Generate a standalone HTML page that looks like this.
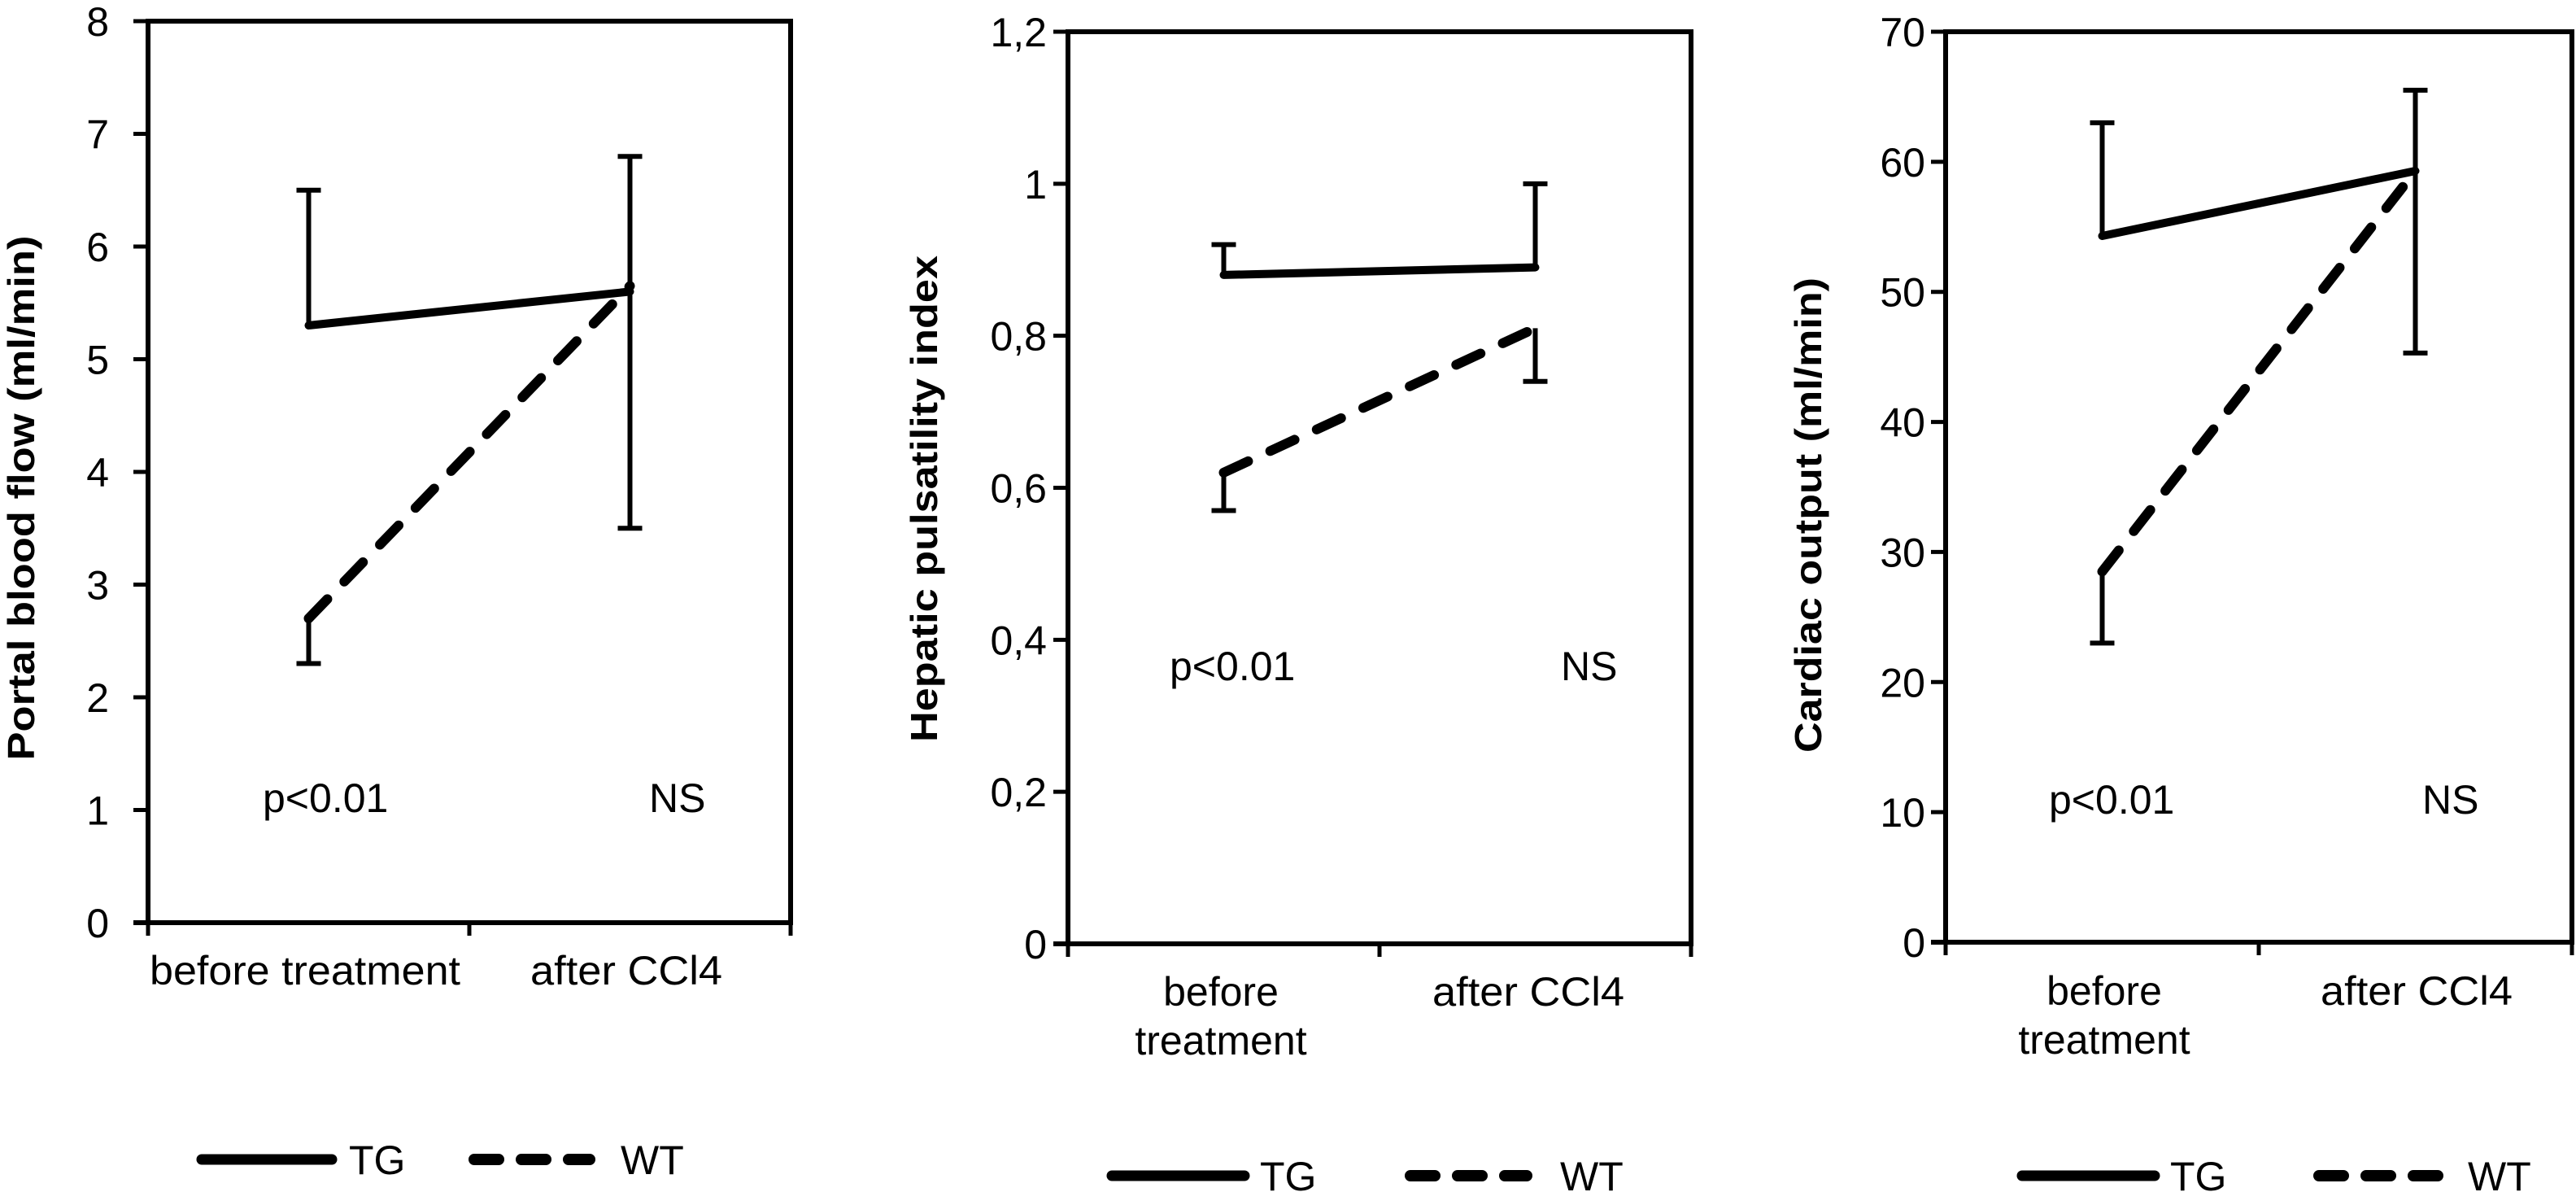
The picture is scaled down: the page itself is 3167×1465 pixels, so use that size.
<!DOCTYPE html>
<html><head><meta charset="utf-8"><style>
html,body{margin:0;padding:0;background:#fff;}
svg{display:block;}
text{font-family:"Liberation Sans",Arial,sans-serif;fill:#000;}
</style></head>
<body>
<svg id="fig" width="3167" height="1465" viewBox="0 0 3167 1465" xmlns="http://www.w3.org/2000/svg"></svg>
<script>
// ---- Data ----
const categories = ["before treatment", "after CCl4"];
const seriesNames = ["TG", "WT"];
// Panel 1: Portal blood flow
const p1TG = [5.3, 5.6];
const p1WT = [2.7, 5.65];
const p1TGUp = [6.5, 6.8];
const p1WTDown = [2.3, 3.5];
const p1Ticks = [0,1,2,3,4,5,6,7,8];
const p1TickLabels = ["0","1","2","3","4","5","6","7","8"];
// Panel 2: Hepatic pulsatility index
const p2TG = [0.88, 0.89];
const p2WT = [0.62, 0.81];
const p2TGUp = [0.92, 1.0];
const p2WTDown = [0.57, 0.74];
const p2Ticks = [0,0.2,0.4,0.6,0.8,1.0,1.2];
const p2TickLabels = ["0","0,2","0,4","0,6","0,8","1","1,2"];
// Panel 3: Cardiac output
const p3TG = [54.3, 59.3];
const p3WT = [28.5, 59.3];
const p3TGUp = [63, 65.5];
const p3WTDown = [23, 45.3];
const p3Ticks = [0,10,20,30,40,50,60,70];
const p3TickLabels = ["0","10","20","30","40","50","60","70"];

const NS = "http://www.w3.org/2000/svg";
const svg = document.getElementById('fig');
function mk(tag, attrs, parent){
  const e = document.createElementNS(NS, tag);
  for (const k in attrs) e.setAttribute(k, attrs[k]);
  (parent||svg).appendChild(e);
  return e;
}

const panels = [
  {id:"portal", L:182, R:972, T:26, B:1134, max:8, tg:p1TG, wt:p1WT, up:p1TGUp, dn:p1WTDown, ticks:p1Ticks, labels:p1TickLabels,
   title:"Portal blood flow (ml/min)", titleX:25, titleY:612, titleLen:645, tickLabelX:134,
   catMode:1, catY:1210, c1x:375, c2x:770, pY:998, pX:323, nsX:798,
   leg:{y:1425, tg1:242, tg2:414, tgT:429, wt1:576, wt2:732, wtT:763}},
  {id:"pulsatility", L:1313, R:2079, T:39, B:1160, max:1.2, tg:p2TG, wt:p2WT, up:p2TGUp, dn:p2WTDown, ticks:p2Ticks, labels:p2TickLabels,
   title:"Hepatic pulsatility index", titleX:1135, titleY:613, titleLen:598, tickLabelX:1287,
   catMode:2, catY:1236, catY2:1296, c1x:1501, c2x:1879, pY:836, pX:1438, nsX:1919,
   leg:{y:1445, tg1:1361, tg2:1536, tgT:1549, wt1:1727, wt2:1884, wtT:1918}},
  {id:"cardiac", L:2392, R:3162, T:39, B:1158, max:70, tg:p3TG, wt:p3WT, up:p3TGUp, dn:p3WTDown, ticks:p3Ticks, labels:p3TickLabels,
   title:"Cardiac output (ml/min)", titleX:2222, titleY:633, titleLen:584, tickLabelX:2367,
   catMode:2, catY:1235, catY2:1295, c1x:2587, c2x:2971, pY:1000, pX:2519, nsX:2978,
   leg:{y:1445, tg1:2480, tg2:2655, tgT:2668, wt1:2844, wt2:3007, wtT:3034}}
];

panels.forEach(p=>{
  const g = mk('g', {});
  
  
  const yS = v => p.B - (v / p.max) * (p.B - p.T);
  const xS = i => p.L + (p.R - p.L) * (0.25 + 0.5 * i);

  const fr = mk('rect', {x:p.L, y:p.T, width:p.R-p.L, height:p.B-p.T, fill:'none', stroke:'#000', 'stroke-width':6}, g);
  
  
  const xa = mk('line', {x1:p.L-18, x2:p.R, y1:p.B, y2:p.B, stroke:'#000', 'stroke-width':6}, g);
  
  

  p.ticks.forEach((t,i)=>{
    const y = yS(t);
    const tk = mk('line', {x1:p.L-18, x2:p.L, y1:y, y2:y, stroke:'#000', 'stroke-width':5}, g);
    
    
    const tl = mk('text', {x:p.tickLabelX, y:y+18, 'text-anchor':'end', 'font-size':50}, g);
    tl.textContent = p.labels[i];
    
    
  });
  [p.L, (p.L+p.R)/2, p.R].forEach(x=>{
    const tk = mk('line', {x1:x, x2:x, y1:p.B, y2:p.B+16, stroke:'#000', 'stroke-width':5}, g);
    
    
  });

  const yt = mk('text', {x:0, y:0, 'text-anchor':'middle', 'font-size':46, 'font-weight':'bold',
    textLength:p.titleLen, lengthAdjust:'spacingAndGlyphs',
    transform:`translate(${p.titleX+17},${p.titleY}) rotate(-90)`}, g);
  yt.textContent = p.title;
  
  

  if (p.catMode === 1) {
    const c1 = mk('text', {x:p.c1x, y:p.catY, 'text-anchor':'middle', 'font-size':50, textLength:382, lengthAdjust:'spacingAndGlyphs'}, g);
    c1.textContent = "before treatment";
    
    
    const c2 = mk('text', {x:p.c2x, y:p.catY, 'text-anchor':'middle', 'font-size':50, textLength:236, lengthAdjust:'spacingAndGlyphs'}, g);
    c2.textContent = "after CCl4";
    
    
  } else {
    const c1 = mk('text', {x:p.c1x, y:p.catY, 'text-anchor':'middle', 'font-size':50}, g);
    c1.textContent = "before";
    
    
    const c1b = mk('text', {x:p.c1x, y:p.catY2, 'text-anchor':'middle', 'font-size':50}, g);
    c1b.textContent = "treatment";
    
    
    const c2 = mk('text', {x:p.c2x, y:p.catY, 'text-anchor':'middle', 'font-size':50, textLength:236, lengthAdjust:'spacingAndGlyphs'}, g);
    c2.textContent = "after CCl4";
    
    
  }

  const pa = mk('text', {x:p.pX, y:p.pY, 'font-size':50}, g);
  pa.textContent = "p<0.01";
  
  
  const na = mk('text', {x:p.nsX, y:p.pY, 'font-size':50}, g);
  na.textContent = "NS";
  
  

  p.up.forEach((v,i)=>{
    const x = xS(i);
    const e = mk('path', {d:`M${x},${yS(p.tg[i])} V${yS(v)} M${x-15},${yS(v)} H${x+15}`, stroke:'#000', 'stroke-width':6, fill:'none'}, g);
    
    
  });
  p.dn.forEach((v,i)=>{
    const x = xS(i);
    const e = mk('path', {d:`M${x},${yS(p.wt[i])} V${yS(v)} M${x-15},${yS(v)} H${x+15}`, stroke:'#000', 'stroke-width':6, fill:'none'}, g);
    
    
  });

  const tgL = mk('polyline', {points:p.tg.map((v,i)=>`${xS(i)},${yS(v)}`).join(' '), fill:'none', stroke:'#000', 'stroke-width':10, 'stroke-linecap':'round'}, g);
  
  
  const wtL = mk('polyline', {points:p.wt.map((v,i)=>`${xS(i)},${yS(v)}`).join(' '), fill:'none', stroke:'#000', 'stroke-width':12, 'stroke-linecap':'round', 'stroke-dasharray':'33 30'}, g);
  
  

  const lg = p.leg;
  const l1 = mk('line', {x1:lg.tg1+6, x2:lg.tg2-6, y1:lg.y, y2:lg.y, stroke:'#000', 'stroke-width':13, 'stroke-linecap':'round'}, g);
  
  
  const t1 = mk('text', {x:lg.tgT, y:lg.y+18, 'font-size':50}, g);
  t1.textContent = seriesNames[0];
  
  
  const l2 = mk('line', {x1:lg.wt1+7, x2:lg.wt2-7, y1:lg.y, y2:lg.y, stroke:'#000', 'stroke-width':14, 'stroke-linecap':'round', 'stroke-dasharray':'30 28'}, g);
  
  
  const t2 = mk('text', {x:lg.wtT, y:lg.y+18, 'font-size':50}, g);
  t2.textContent = seriesNames[1];
  
  
});
</script>
</body></html>
